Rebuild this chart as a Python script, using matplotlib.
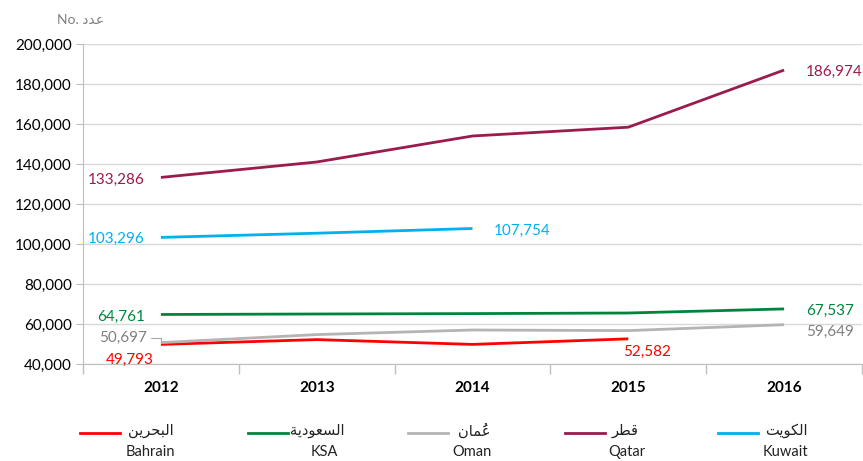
import numpy as np
import matplotlib
matplotlib.use('Agg')
import matplotlib.pyplot as plt
from matplotlib.lines import Line2D
from matplotlib.ticker import FuncFormatter, FixedLocator

plt.rcParams['font.family'] = ['Lato', 'DejaVu Sans']

years = ['2012', '2013', '2014', '2015', '2016']
qatar = [133286, 141000, 154000, 158400, 186974]
kuwait = [103296, 105400, 107754]
ksa = [64761, 65000, 65200, 65500, 67537]
oman = [50697, 54700, 57000, 56700, 59649]
bahrain = [49793, 52200, 49800, 52582]

names_en = ['Bahrain', 'KSA', 'Oman', 'Qatar', 'Kuwait']
names_ar = ['البحرين', 'السعودية', 'عُمان', 'قطر', 'الكويت']
colors = ['#FF0000', '#00843D', '#B4B4B4', '#9B1B4E', '#00B0F0']
label_colors = ['#FF0000', '#00843D', '#808080', '#9B1B4E', '#00B0F0']

# arabic presentation forms (matplotlib does no shaping)
PF = {'ا': (0xFE8D, False), 'ب': (0xFE8F, True), 'ة': (0xFE93, False), 'ت': (0xFE95, True),
      'ح': (0xFEA1, True), 'د': (0xFEA9, False), 'ر': (0xFEAD, False), 'س': (0xFEB1, True),
      'ط': (0xFEC1, True), 'ع': (0xFEC9, True), 'ق': (0xFED5, True), 'ك': (0xFED9, True),
      'ل': (0xFEDD, True), 'م': (0xFEE1, True), 'ن': (0xFEE5, True), 'و': (0xFEED, False),
      'ي': (0xFEF1, True)}

def ar(word):
    clusters = []
    for ch in word:
        if ch in PF:
            clusters.append([ch, ''])
        else:
            clusters[-1][1] += ch
    out = []
    for i, (ch, marks) in enumerate(clusters):
        base, dual = PF[ch]
        prev = i > 0 and PF[clusters[i-1][0]][1]
        nxt = dual and i < len(clusters) - 1
        idx = (1 if prev else 0) + (2 if nxt else 0)
        # mark goes first so it lands over its letter
        out.append(marks + chr(base + idx))
    return ''.join(out[::-1])

W, H = 863, 461
fig = plt.figure(figsize=(W/100, H/100), dpi=100)
ax = fig.add_axes([83/W, 1-364/H, 779/W, 320/H])

x = np.arange(len(years))
series = [bahrain, ksa, oman, qatar, kuwait]
for s, c in zip(series, colors):
    ax.plot(x[:len(s)], s, color=c, lw=2.0, solid_capstyle='butt', zorder=3)

ax.set_xlim(-0.5, 4.5)
ax.set_ylim(40000, 200000)
ax.set_yticks(np.arange(40000, 200001, 20000))
ax.yaxis.set_major_formatter(FuncFormatter(lambda v, p: f'{int(v):,}'))
ax.set_xticks(x)
ax.set_xticklabels(years, fontweight='bold', fontsize=11)
ax.xaxis.set_minor_locator(FixedLocator(np.arange(-0.5, 4.6, 1)))
ax.tick_params(axis='x', which='major', length=0, pad=12)
ax.tick_params(axis='x', which='minor', length=7, color='#BFBFBF', width=1)
ax.tick_params(axis='y', length=5, color='#BFBFBF', labelsize=11, pad=3)
ax.grid(axis='y', color='#D9D9D9', lw=1)
for sp in ['top', 'right']:
    ax.spines[sp].set_visible(False)
for sp in ['left', 'bottom']:
    ax.spines[sp].set_color('#BFBFBF')

px = 0.72
def lab(xi, v, dx, dy, c, ha='left'):
    ax.annotate(f'{v:,}', (xi, v), xytext=(dx*px, dy*px), textcoords='offset points',
                ha=ha, va='center', color=c, fontsize=11)

lab(0, qatar[0], -16, -2, label_colors[3], 'right')
lab(4, qatar[4], 22, -2, label_colors[3])
lab(0, kuwait[0], -16, -1, label_colors[4], 'right')
lab(2, kuwait[2], 21, -2, label_colors[4])
lab(0, ksa[0], -16, -2, label_colors[1], 'right')
lab(4, ksa[4], 22, -2, label_colors[1])
lab(4, oman[4], 22, -7, label_colors[2])
lab(0, bahrain[0], -7, -15, label_colors[0], 'right')
lab(3, bahrain[3], 19, -13, label_colors[0], 'center')
ax.annotate(f'{oman[0]:,}', (0, oman[0]), xytext=(-14*px, 5*px), textcoords='offset points',
            ha='right', va='center', color=label_colors[2], fontsize=11,
            arrowprops=dict(arrowstyle='-', color='#A6A6A6', lw=0.8, shrinkA=1, shrinkB=1,
                            connectionstyle='angle,angleA=0,angleB=90,rad=0'))

fig.text(57/W, 1-20/H, 'No. ' + ar('عدد'), color='#808080', fontsize=10, va='center', ha='left')

# legend
leg = [(80, 128, 150), (248, 290, 324), (408, 458, 472), (565, 612, 627), (718, 765, 785)]
for (lx, ax_ar, cx), c, ne, na in zip(leg, colors, names_en, names_ar):
    fig.add_artist(Line2D([lx/W, (lx+40)/W], [1-433/H, 1-433/H], color=c, lw=2.0,
                          transform=fig.transFigure))
    fig.text(ax_ar/W, 1-431/H, ar(na), fontsize=10.5, va='center', ha='left', color='#222222')
    fig.text(cx/W, 1-452/H, ne, fontsize=10.5, va='center', ha='center', color='#222222')

fig.savefig('out.png', dpi=100)
